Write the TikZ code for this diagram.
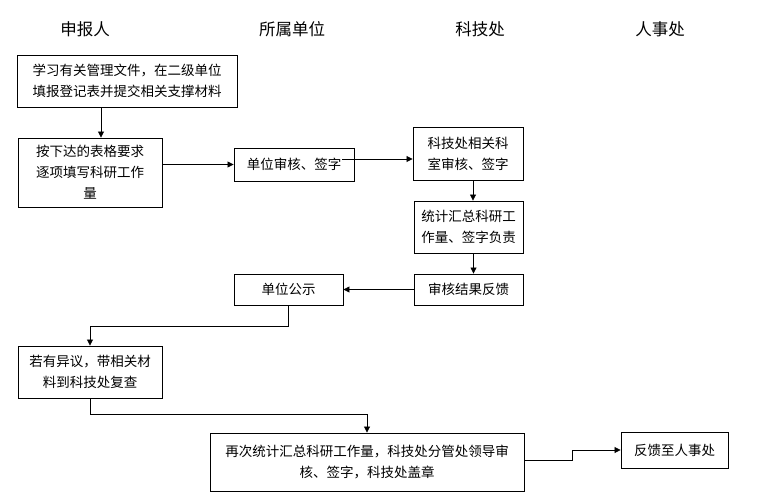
\documentclass[tikz,border=0pt]{standalone}
\usepackage{fontspec}
\setmainfont{Noto Sans CJK SC}
\usetikzlibrary{arrows.meta}
\begin{document}
\begin{tikzpicture}[x=1pt,y=-1pt,
  box/.style={draw=black,line width=0.9pt,inner sep=0pt,align=center,
    font=\fontsize{13.5}{21}\selectfont},
  hdr/.style={inner sep=0pt,font=\fontsize{16.5}{20}\selectfont},
  arr/.style={draw=black,line width=0.8pt,-{Triangle[length=6pt,width=6pt]}}]
\useasboundingbox (0,0) rectangle (757,497);
\fill[white] (0,0) rectangle (757,497);
% headers
\node[hdr] (h1) at (85,29) {申报人};
\node[hdr] (h2) at (292,29) {所属单位};
\node[hdr] (h3) at (480,29) {科技处};
\node[hdr] (h4) at (660,29) {人事处};
% boxes
\node[box,minimum width=220,minimum height=52] (b1) at (127,81) {学习有关管理文件，在二级单位\\填报登记表并提交相关支撑材料};
\node[box,minimum width=144,minimum height=69] (b2) at (90,172.5) {按下达的表格要求\\逐项填写科研工作\\量};
\node[box,minimum width=120,minimum height=33] (b3) at (294,164.5) {单位审核、签字};
\node[box,minimum width=110,minimum height=53] (b4) at (468,153.5) {科技处相关科\\室审核、签字};
\node[box,minimum width=109,minimum height=52] (b5) at (468.5,227) {统计汇总科研工\\作量、签字负责};
\node[box,minimum width=109,minimum height=31] (b6) at (468.5,289.5) {审核结果反馈};
\node[box,minimum width=109,minimum height=31] (b7) at (288.5,289.5) {单位公示};
\node[box,minimum width=144,minimum height=52] (b8) at (90,372) {若有异议，带相关材\\料到科技处复查};
\node[box,minimum width=314,minimum height=58] (b9) at (367,462) {再次统计汇总科研工作量，科技处分管处领导审\\核、签字，科技处盖章};
\node[box,minimum width=107,minimum height=36] (b10) at (674.5,450) {反馈至人事处};
% connectors
\draw[arr] ([xshift=-26pt]b1.south) -- ([xshift=-26pt]b1.south |- b2.north);
\draw[arr] (b2.east |- b3.west) -- (b3.west);
\coordinate (s3) at (342,159);
\draw[arr] (s3) -- (s3 -| b4.west);
\draw[arr] ([xshift=5pt]b4.south) -- ([xshift=5pt]b4.south |- b5.north);
\draw[arr] ([xshift=5pt]b5.south) -- ([xshift=5pt]b5.south |- b6.north);
\draw[arr] (b6.west) -- (b7.east);
\draw[arr] (b7.south) -- ++(0,21) -| (b8.north);
\draw[arr] (b8.south) -- ++(0,16) -| (b9.north);
\draw[arr] ([yshift=2pt]b9.east) -- ++(48,0) |- (b10.west);
\end{tikzpicture}
\end{document}
